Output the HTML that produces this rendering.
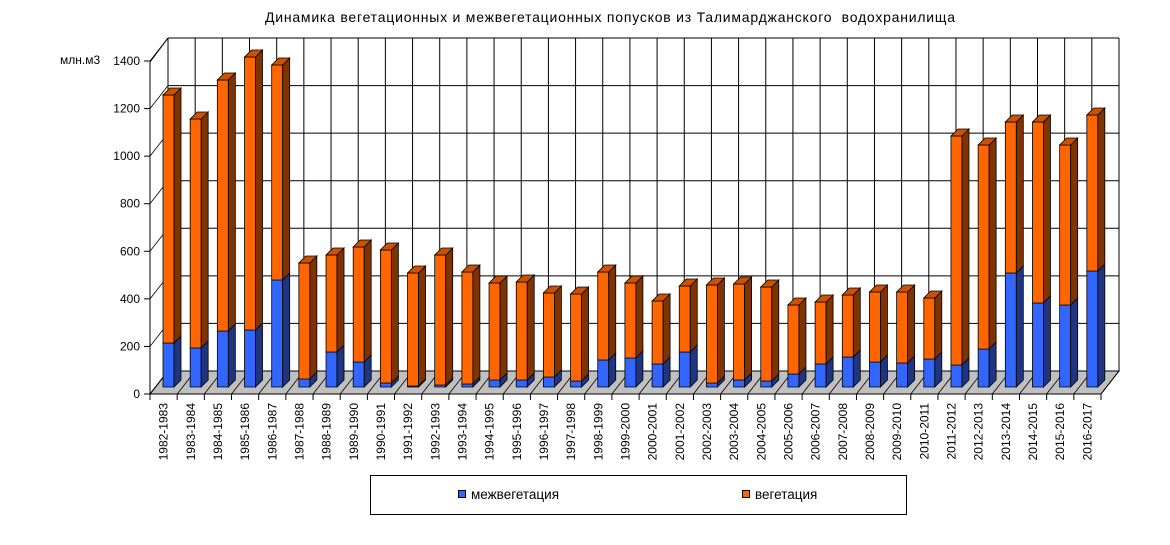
<!DOCTYPE html>
<html><head><meta charset="utf-8"><style>
body{margin:0;background:#fff;}
svg{display:block;font-family:"Liberation Sans",sans-serif;}
</style></head><body>
<svg id="c" width="1170" height="545" xmlns="http://www.w3.org/2000/svg">
<text x="265" y="22" font-size="14" textLength="690" lengthAdjust="spacing" xml:space="preserve">Динамика вегетационных и межвегетационных попусков из Талимарджанского  водохранилища</text>
<text x="60" y="64" font-size="12">млн.м3</text>
<rect x="370.5" y="475.5" width="536" height="39" fill="#fff" stroke="#000"/>
<rect x="458.5" y="490.5" width="7" height="7" fill="#3366FF" stroke="#000"/>
<text x="471" y="499" font-size="13.5">межвегетация</text>
<rect x="742.5" y="490.5" width="7" height="7" fill="#FF6600" stroke="#000"/>
<text x="755" y="499" font-size="13.5">вегетация</text>
<g id="g"></g>
</svg>
<script>
var labels=[],tops=[95,119,80,57,65,263,255,247,250,273,255,272,283,282,293,294,272,283,301,286,285,284,287,305,302,295,292,292,298,136,145,122,122,145,115];
var blues=[343,348,331,330,280,379,352,362,383,386,385,384,380,380,377,381,360,358,364,352,383,380,381,374,364,357,362,363,359,365,349,273,303,305,271];
for(var i=0;i<35;i++)labels.push((1982+i)+"-"+(1983+i));
var s='',W=(1101-150)/35;
s+='<polygon points="168,38 1119,38 1119,371 168,371" fill="#fff"/>';
s+='<polygon points="150,394 1101,394 1119,371 168,371" fill="#C0C0C0" stroke="#000"/>';
for(var k=0;k<=7;k++){var yb=371-k*47.57,yf=394-k*47.57;
 s+='<line x1="168" y1="'+yb+'" x2="1119" y2="'+yb+'" stroke="#000"/>';
 s+='<line x1="150" y1="'+yf+'" x2="168" y2="'+yb+'" stroke="#000" stroke-width="0.8"/>';
 s+='<line x1="144" y1="'+yf+'" x2="150" y2="'+yf+'" stroke="#000"/>';
 s+='<text x="140" y="'+(yf+4)+'" font-size="12" text-anchor="end">'+(k*200)+'</text>';}
for(var i=0;i<=35;i++){var x=150+i*W;
 s+='<line x1="'+(x+18)+'" y1="38" x2="'+(x+18)+'" y2="371" stroke="#000"/>';
 s+='<line x1="'+x+'" y1="394" x2="'+(x+18)+'" y2="371" stroke="#000" stroke-width="0.8"/>';
 s+='<line x1="'+x+'" y1="394" x2="'+x+'" y2="400" stroke="#000"/>';}
s+='<line x1="150" y1="62" x2="150" y2="394" stroke="#000"/>';
s+='<line x1="150" y1="62" x2="168" y2="38" stroke="#000"/>';
function bar(x,yt,yb,f,sd,tp){var w=11,d=7;
 return '<polygon points="'+x+','+yb+' '+(x+w)+','+yb+' '+(x+w)+','+yt+' '+x+','+yt+'" fill="'+f+'" stroke="#000" stroke-width="0.8"/>'+
 '<polygon points="'+(x+w)+','+yb+' '+(x+w+d)+','+(yb-d)+' '+(x+w+d)+','+(yt-d)+' '+(x+w)+','+yt+'" fill="'+sd+'" stroke="#000" stroke-width="0.8"/>'+
 (tp?'<polygon points="'+x+','+yt+' '+(x+w)+','+yt+' '+(x+w+d)+','+(yt-d)+' '+(x+d)+','+(yt-d)+'" fill="'+tp+'" stroke="#000" stroke-width="0.8"/>':'');}
for(var i=0;i<35;i++){var x=150+i*W+13;
 s+=bar(x,blues[i],387,'#3366FF','#1F3580',null);
 if(tops[i]<blues[i]-0.5)s+=bar(x,tops[i],blues[i],'#FF6600','#7F3300','#CC5200');
 var cx=150+i*W+W/2+4;
 s+='<text transform="translate('+cx+',403) rotate(-90)" font-size="12" text-anchor="end">'+labels[i]+'</text>';}
document.getElementById('g').innerHTML=s;
</script>
</body></html>
